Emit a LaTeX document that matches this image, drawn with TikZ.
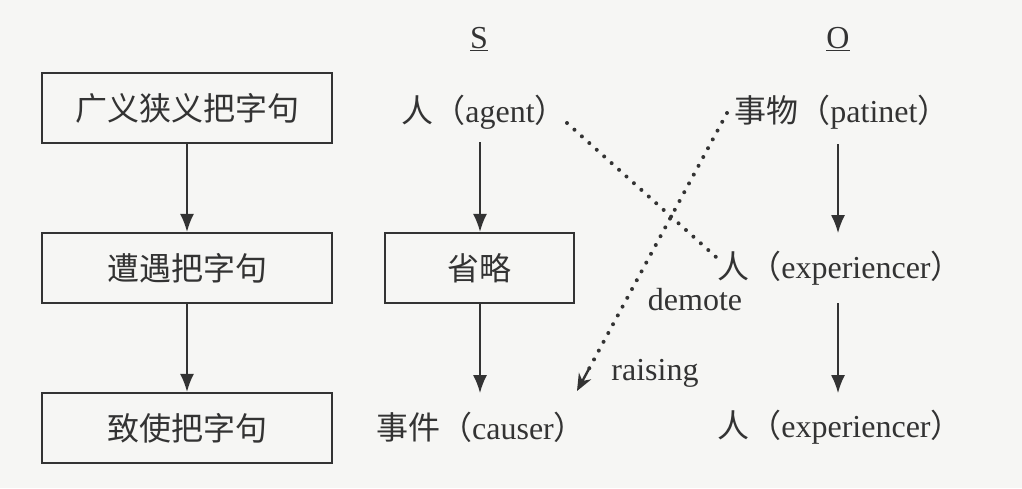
\documentclass[tikz,border=0pt]{standalone}
\usepackage{fontspec}
\setmainfont{Liberation Serif}
\newfontfamily\cjk{Noto Sans CJK SC}
\usetikzlibrary{arrows.meta,calc}
\definecolor{ink}{HTML}{333333}
\definecolor{paper}{HTML}{F6F6F4}
\newcommand{\zh}[1]{{\cjk\fontsize{32}{34}\selectfont #1}}
\begin{document}
\begin{tikzpicture}[x=1pt,y=-1pt,
  every node/.style={text=ink,font=\fontsize{32}{34}\selectfont},
  stepbox/.style={draw=ink,line width=2.4pt,minimum width=290pt,minimum height=70pt,inner sep=0pt,font=\cjk\fontsize{32}{34}\selectfont},
  sbox/.style={draw=ink,line width=2.4pt,minimum width=189pt,minimum height=70pt,inner sep=0pt,font=\cjk\fontsize{32}{34}\selectfont},
  lbl/.style={inner sep=1pt},
  flow/.style={draw=ink,line width=1.5pt,-{Latex[length=18pt,width=14pt]}},
  dots/.style={draw=ink,line width=4pt,line cap=round,dash pattern=on 0pt off 10pt}]
\fill[paper] (0,0) rectangle (1022,488);
\useasboundingbox (0,0) rectangle (1022,488);
% left column
\node[stepbox] (b1) at (187,108) {广义狭义把字句};
\node[stepbox] (b2) at (187,268) {遭遇把字句};
\node[stepbox] (b3) at (187,428) {致使把字句};
\draw[flow] (b1) -- (b2);
\draw[flow] (b2) -- (b3);
% headers
\node[lbl] (S) at (479,39) {\underline{S}};
\node[lbl] (O) at (838,39) {\underline{O}};
% S column
\node[lbl] (agent) at (484,112) {\zh{人（}agent\zh{）}};
\node[sbox] (omit) at (479.5,268) {省略};
\node[lbl] (causer) at (481,427) {\zh{事件（}causer\zh{）}};
\draw[flow] (480,142) -- (omit.north -| 480,0);
\draw[flow] (omit.south -| 480,0) -- (480,393);
% O column
\node[lbl] (patient) at (842,112) {\zh{事物（}patinet\zh{）}};
\node[lbl] (exp1) at (840,268) {\zh{人（}experiencer\zh{）}};
\node[lbl] (exp2) at (840,427) {\zh{人（}experiencer\zh{）}};
\draw[flow] (838,144) -- (838,233);
\draw[flow] (838,303) -- (838,393);
% dotted connectors
\coordinate (dA) at (567,123);
\coordinate (dB) at (716,257);
\coordinate (rA) at (727,113);
\coordinate (rB) at (577,391);
\draw[dots] (dA) -- (dB);
\draw[dots] (rA) -- ($(rA)!0.94!(rB)$);
\draw[draw=ink,line width=2.4pt,-{Stealth[length=17pt,width=14pt]}] ($(rA)!0.92!(rB)$) -- (rB);
\node[lbl] (demote) at (695,300) {demote};
\node[lbl] (raising) at (655,373) {raising};
\end{tikzpicture}
\end{document}
